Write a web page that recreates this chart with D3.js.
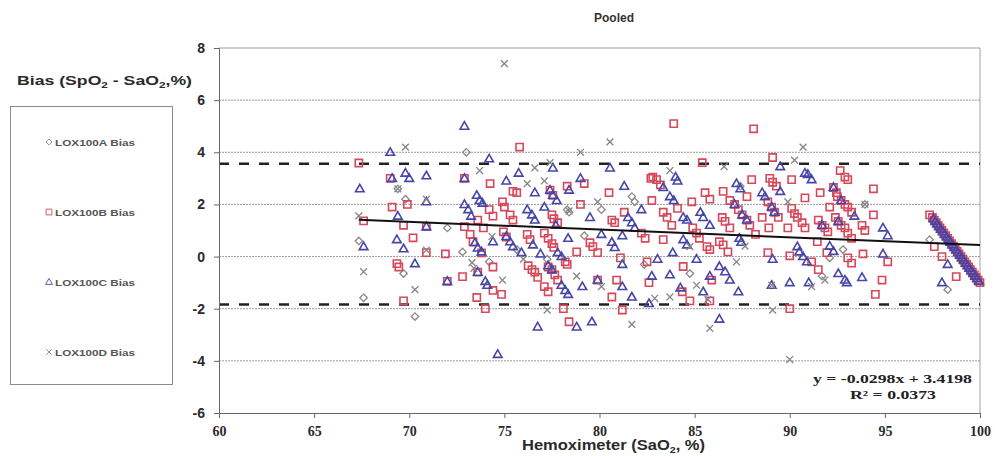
<!DOCTYPE html>
<html>
<head>
<meta charset="utf-8">
<script src="https://cdn.jsdelivr.net/npm/d3@7"></script>
<style>
  body { margin: 0; background: #fff; }
  svg { display: block; }
</style>
</head>
<body>
<script>
// ---- data ----
const xTicks = [60, 65, 70, 75, 80, 85, 90, 95, 100];
const yTicks = [-6, -4, -2, 0, 2, 4, 6, 8];
const limitsOfAgreement = [3.56, -1.84];
const fitSlope = -0.0298;
const fitIntercept = 3.4198;
const fitRange = [67.35, 100];
const seriesNames = ["LOX100A Bias", "LOX100B Bias", "LOX100C Bias", "LOX100D Bias"];

const lox100A = [
  [67.35,0.6],[67.6,-1.58],[69.8,2.2],[69.7,-0.65],[70.3,-2.3],[72.0,1.1],[72.8,0.18],[73.0,4.0],
  [74.2,-0.2],[75.65,0.27],[77.25,-0.1],[78.3,1.8],[78.4,1.7],[79.2,0.8],[80.1,1.8],[81.7,2.3],
  [81.85,2.1],[82.35,-0.3],[84.75,-0.65],[87.4,2.7],[92.8,0.27],[92.1,-0.05],[91.7,-0.75],
  [93.95,2.0],[97.35,0.65],[98.3,-1.27],[69.4,2.6]
];

const lox100B = [
  [67.35,3.59],[67.6,1.37],[69.0,3.0],[69.1,1.9],[69.9,2.0],[69.7,1.2],[70.9,1.15],[70.2,0.72],
  [70.9,0.15],[71.9,0.1],[69.35,-0.27],[69.45,-0.4],[72.0,-0.95],[72.8,-0.77],[69.7,-1.7],
  [74.25,2.8],[72.9,3.0],[74.2,1.8],[74.4,1.55],[73.6,1.4],[73.9,1.1],[72.9,1.15],[73.2,0.85],
  [73.35,0.57],[73.8,0.14],[74.4,-0.4],[73.6,-0.6],[74.4,-1.3],[73.55,-1.57],[74.0,-2.0],
  [75.8,4.2],[75.45,2.5],[75.65,2.45],[77.4,2.55],[77.55,2.35],[78.3,2.7],[79.2,2.8],[74.9,2.1],
  [75.0,1.9],[79.0,2.0],[75.3,1.6],[75.45,1.4],[77.5,1.6],[77.6,1.45],[77.8,1.3],[80.5,2.45],
  [80.65,1.4],[80.8,1.3],[81.3,1.7],[82.2,0.9],[82.4,0.7],[82.7,3.0],[82.75,2.15],
  [74.95,0.95],[75.1,0.75],[76.2,0.85],[76.35,0.65],[77.1,0.9],[77.3,0.7],[77.5,0.5],[77.6,0.35],
  [78.8,0.18],[78.2,-0.2],[78.3,-0.3],[79.5,0.53],[79.65,0.38],[79.9,0.15],[81.1,-0.05],
  [76.25,-0.35],[76.45,-0.5],[76.6,-0.6],[76.75,-0.8],[77.3,-0.4],[77.5,-0.5],[77.65,-0.7],
  [77.8,-0.9],[77.1,-1.15],[77.3,-1.35],[79.9,-0.9],[80.9,-0.9],[80.65,-1.55],[81.2,-2.05],
  [78.1,-2.0],[78.4,-2.5],[74.85,-1.45],
  [83.9,5.1],[88.1,4.9],[89.1,3.8],[85.4,3.6],[82.8,3.05],[83.0,2.95],[83.2,2.75],[84.1,1.85],
  [83.35,1.7],[83.55,1.5],[83.8,1.2],[84.85,2.1],[85.55,2.45],[85.8,2.2],[86.5,2.5],
  [86.85,2.15],[87.1,2.0],[87.3,1.8],[87.5,1.6],[87.75,1.4],[86.45,1.5],[86.6,1.35],[86.85,1.1],
  [87.9,1.2],[88.2,0.85],[87.75,2.3],[88.0,2.95],[88.95,3.0],[89.1,2.85],[89.3,2.7],
  [88.85,2.1],[89.05,1.9],[89.2,1.7],[89.4,1.5],[88.55,1.5],[88.9,1.1],[89.9,1.1],[90.1,2.95],
  [90.8,2.25],[90.1,1.85],[90.25,1.65],[90.4,1.5],[90.65,1.3],[90.8,1.1],
  [83.35,0.65],[84.9,1.1],[85.1,0.9],[85.25,0.7],[85.65,0.38],[85.8,0.27],[86.3,0.57],[86.5,0.45],
  [86.75,0.18],[88.85,0.15],[90.0,0.03],[84.4,-0.38],[85.9,-0.9],[84.35,-1.35],[84.75,-1.7],
  [85.8,-1.7],[90.0,-2.0],[82.5,-0.2],[82.6,-1.0],
  [92.65,3.3],[92.9,3.05],[93.05,2.95],[94.4,2.6],[91.6,2.45],[92.1,1.9],[92.3,2.65],[92.45,2.45],
  [92.5,2.3],[92.7,2.15],[92.9,2.0],[93.05,1.9],[93.25,1.7],[94.4,1.6],[92.4,1.5],[92.55,1.35],
  [92.7,1.2],[91.5,1.4],[91.7,1.2],[91.85,1.1],[92.0,0.95],[92.9,1.1],[93.05,0.9],[93.25,0.7],
  [93.8,1.2],[93.95,1.0],
  [91.45,0.57],[91.95,0.15],[91.15,-0.2],[93.05,-0.05],[93.25,-0.25],[93.85,0.1],[95.15,-0.2],
  [91.5,-0.5],[94.85,-0.9],[94.5,-1.45],
  [97.35,1.6],[97.6,0.38],[98.0,0.0],[98.75,-0.77],
  [97.5,1.5],[97.6,1.4],[97.7,1.3],[97.8,1.2],[97.9,1.1],[98.0,1.0],[98.1,0.9],[98.2,0.8],
  [98.3,0.7],[98.4,0.6],[98.5,0.5],[98.6,0.4],[98.7,0.3],[98.8,0.2],[98.9,0.1],[99.0,0.0],
  [99.1,-0.1],[99.2,-0.2],[99.3,-0.3],[99.4,-0.4],[99.5,-0.5],[99.6,-0.6],[99.7,-0.7],
  [99.8,-0.8],[99.9,-0.9],[100,-1.0]
];

const lox100C = [
  [67.4,2.6],[67.6,0.38],[69.0,4.0],[69.1,3.0],[69.8,3.2],[70.0,3.0],[70.9,3.1],[70.9,2.1],
  [69.4,1.55],[70.9,1.15],[69.35,0.65],[69.7,0.3],[70.3,-0.27],[72.0,-0.95],
  [72.9,5.0],[74.2,3.75],[72.9,3.0],[73.55,2.35],[73.7,2.15],[73.85,2.05],[72.9,2.0],[73.1,1.8],
  [73.25,1.55],[73.45,0.53],[73.6,0.33],[73.8,0.18],[74.4,0.57],[73.6,-0.6],[74.0,-0.95],
  [74.1,-1.1],[74.65,-3.75],
  [77.55,3.4],[80.55,3.4],[75.1,2.9],[75.75,3.2],[76.6,2.45],[77.4,2.55],[77.55,2.35],[77.75,2.15],
  [78.4,2.55],[79.0,3.0],[77.1,1.9],[76.2,1.8],[76.45,1.6],[76.6,1.4],[77.7,1.2],[79.5,1.5],
  [81.3,2.7],[81.5,1.5],[81.7,1.3],[81.85,1.1],[82.2,1.8],
  [75.1,0.77],[75.3,0.57],[75.45,0.38],[75.9,0.15],[76.5,0.45],[77.8,0.15],[78.0,0.0],[76.9,0.1],
  [78.35,0.7],[80.65,0.55],[80.8,0.35],[81.2,-0.3],[81.2,0.8],[80.1,0.85],[82.75,-0.75],
  [77.3,-0.35],[77.5,-0.5],[78.0,-1.1],[78.2,-1.3],[78.35,-1.45],[79.1,-1.15],[79.9,-0.9],
  [81.2,-1.15],[81.7,-1.55],[76.75,-2.7],[78.8,-2.7],[79.6,-2.5],[82.6,-1.8],
  [89.5,3.45],[84.0,3.05],[84.1,2.9],[83.35,2.65],[83.7,2.3],[83.9,2.15],[84.4,1.5],[84.6,1.4],
  [85.3,1.7],[85.45,1.5],[85.8,1.2],[87.2,2.8],[87.4,2.6],[87.1,2.0],[87.5,1.6],[87.75,1.4],
  [88.55,2.45],[88.7,2.3],[89.5,2.5],[90.8,3.2],[89.05,1.9],[89.2,1.7],
  [84.4,0.65],[84.6,0.45],[87.35,0.7],[87.45,0.55],[89.1,-0.1],[90.4,0.38],[90.5,0.18],[90.7,0.0],
  [90.9,-0.2],[83.85,0.15],[83.05,-0.1],[85.1,-0.1],[83.7,-0.7],[86.3,-0.38],[86.6,-0.58],
  [86.85,-0.9],[85.8,-0.75],[84.25,-1.2],[85.45,-1.35],[87.3,-1.35],[86.3,-2.4],[89.05,-1.1],
  [90.0,-1.0],
  [90.95,3.15],[91.15,2.95],[92.3,2.65],[92.7,2.15],[93.4,1.55],[92.55,1.35],[91.7,1.2],[94.9,1.1],
  [95.15,0.8],[92.1,0.4],[92.3,0.2],[94.9,0.1],[92.55,-0.65],[92.9,-0.9],[93.0,-1.0],[93.8,-0.8],
  [91.0,-1.0],[98.3,-0.3],[98.0,-1.0],
  [97.55,1.45],[97.65,1.35],[97.75,1.25],[97.85,1.15],[97.95,1.05],[98.05,0.95],[98.15,0.85],
  [98.25,0.75],[98.35,0.65],[98.45,0.55],[98.55,0.45],[98.65,0.35],[98.75,0.25],[98.85,0.15],
  [98.95,0.05],[99.05,-0.05],[99.15,-0.15],[99.25,-0.25],[99.35,-0.35],[99.45,-0.45],
  [99.55,-0.55],[99.65,-0.65],[99.75,-0.75],[99.85,-0.85],[99.95,-0.95]
];

const lox100D = [
  [67.35,1.56],[67.6,-0.58],[69.8,4.2],[69.4,2.6],[70.9,2.2],[70.9,0.25],[70.3,-1.27],[73.7,3.3],
  [74.35,0.77],[73.3,-0.23],[73.4,-0.45],[75.0,7.4],
  [79.0,4.0],[80.55,4.4],[76.6,3.4],[77.4,3.6],[76.2,2.8],[77.1,2.9],[79.9,2.1],[78.8,-0.75],
  [74.9,-0.9],[80.1,-1.15],[81.7,-2.6],[77.25,-2.05],[78.4,1.75],[76.0,-0.1],
  [90.7,4.2],[90.25,3.7],[86.55,3.45],[83.7,3.3],[84.75,0.38],[87.2,-0.2],[87.65,0.4],[85.1,-1.1],
  [83.7,-1.55],[85.7,-1.65],[85.8,-2.75],[89.1,-2.05],[89.05,-1.1],[90.0,-3.95],[91.85,-0.9],
  [91.15,-1.15],[93.95,2.0],[89.9,2.1],[82.9,-1.6]
];

// ---- drawing ----
const width = 995, height = 456;
const plot = { left: 219, right: 980, top: 48, bottom: 413 };

const x = d3.scaleLinear().domain([60, 100]).range([plot.left, plot.right]);
const y = d3.scaleLinear().domain([-6, 8]).range([plot.bottom, plot.top]);

const sans = "'Liberation Sans', Arial, sans-serif";
const serif = "'Liberation Serif', 'Times New Roman', serif";

const svg = d3.select("body").append("svg")
  .attr("width", width)
  .attr("height", height);

// marker shapes, Excel style
const shapes = {
  diamond: "M0,-3.7L3.7,0L0,3.7L-3.7,0Z",
  square: "M-3.6,-3.6H3.6V3.6H-3.6Z",
  triangle: "M0,-4.5L4.3,3H-4.3Z",
  cross: "M-3.4,-3.4L3.4,3.4M3.4,-3.4L-3.4,3.4"
};

const series = [
  { name: seriesNames[0], data: lox100A, shape: "diamond", color: "#8a8a8a", width: 1.3 },
  { name: seriesNames[1], data: lox100B, shape: "square", color: "#d6485a", width: 1.6 },
  { name: seriesNames[2], data: lox100C, shape: "triangle", color: "#4646a8", width: 1.6 },
  { name: seriesNames[3], data: lox100D, shape: "cross", color: "#858585", width: 1.3 }
];

// gridlines
svg.append("g")
  .selectAll("line")
  .data(yTicks.filter(d => d > -6))
  .join("line")
  .attr("x1", plot.left)
  .attr("x2", plot.right)
  .attr("y1", d => y(d))
  .attr("y2", d => y(d))
  .attr("stroke", "#9a9a9a")
  .attr("stroke-width", 1)
  .attr("stroke-dasharray", d => d === 8 ? null : "2,1");

// right border
svg.append("line")
  .attr("x1", plot.right).attr("x2", plot.right)
  .attr("y1", plot.top).attr("y2", plot.bottom)
  .attr("stroke", "#a0a0a0");

// limits of agreement
svg.append("g")
  .selectAll("line")
  .data(limitsOfAgreement)
  .join("line")
  .attr("x1", plot.left)
  .attr("x2", plot.right)
  .attr("y1", d => y(d))
  .attr("y2", d => y(d))
  .attr("stroke", "#222")
  .attr("stroke-width", 2.6)
  .attr("stroke-dasharray", "10,10");

// points
series.forEach(s => {
  svg.append("g")
    .selectAll("path")
    .data(s.data)
    .join("path")
    .attr("transform", d => `translate(${x(d[0])},${y(d[1])})`)
    .attr("d", shapes[s.shape])
    .attr("fill", "none")
    .attr("stroke", s.color)
    .attr("stroke-width", s.width);
});

// trendline
svg.append("line")
  .attr("x1", x(fitRange[0]))
  .attr("x2", x(fitRange[1]))
  .attr("y1", y(fitSlope * fitRange[0] + fitIntercept))
  .attr("y2", y(fitSlope * fitRange[1] + fitIntercept))
  .attr("stroke", "#111")
  .attr("stroke-width", 2);

// axes
const yAxis = svg.append("g")
  .attr("transform", `translate(${plot.left},0)`)
  .call(d3.axisLeft(y).tickValues(yTicks).tickSize(5).tickPadding(9).tickFormat(d => String(d)));
yAxis.select(".domain").attr("stroke", "#666");
yAxis.selectAll(".tick line").attr("stroke", "#666");
yAxis.selectAll(".tick text")
  .attr("font-family", sans).attr("font-size", 14).attr("font-weight", "bold").attr("fill", "#2a2a2a");

const xAxis = svg.append("g")
  .attr("transform", `translate(0,${plot.bottom})`)
  .call(d3.axisBottom(x).tickValues(xTicks).tickSize(5).tickPadding(8).tickFormat(d => String(d)));
xAxis.select(".domain").attr("stroke", "#666");
xAxis.selectAll(".tick line").attr("stroke", "#666");
xAxis.selectAll(".tick text")
  .attr("font-family", serif).attr("font-size", 14).attr("font-weight", "bold").attr("fill", "#2a2a2a");

// title
svg.append("text")
  .attr("x", 614).attr("y", 22)
  .attr("text-anchor", "middle")
  .attr("font-family", sans).attr("font-size", 12).attr("font-weight", "bold").attr("fill", "#333")
  .text("Pooled");

// y title
const yTitle = svg.append("text")
  .attr("x", 17).attr("y", 85)
  .attr("font-family", sans).attr("font-size", 13.5).attr("font-weight", "bold").attr("fill", "#2a2a2a")
  .attr("textLength", 175).attr("lengthAdjust", "spacingAndGlyphs");
yTitle.append("tspan").text("Bias (SpO");
yTitle.append("tspan").attr("font-size", 9).attr("dy", 3).text("2");
yTitle.append("tspan").attr("dy", -3).text(" - SaO");
yTitle.append("tspan").attr("font-size", 9).attr("dy", 3).text("2");
yTitle.append("tspan").attr("dy", -3).text(",%)");

// x title
const xTitle = svg.append("text")
  .attr("x", 522).attr("y", 450)
  .attr("font-family", sans).attr("font-size", 14).attr("font-weight", "bold").attr("fill", "#2a2a2a")
  .attr("textLength", 183).attr("lengthAdjust", "spacingAndGlyphs");
xTitle.append("tspan").text("Hemoximeter (SaO");
xTitle.append("tspan").attr("font-size", 9).attr("dy", 2.5).text("2");
xTitle.append("tspan").attr("dy", -2.5).text(", %)");

// regression equation
svg.append("text")
  .attr("x", 813).attr("y", 383)
  .attr("font-family", serif).attr("font-size", 13).attr("font-weight", "bold").attr("fill", "#222")
  .attr("textLength", 159).attr("lengthAdjust", "spacingAndGlyphs")
  .text(`y = ${fitSlope}x + ${fitIntercept}`);
svg.append("text")
  .attr("x", 850).attr("y", 399)
  .attr("font-family", serif).attr("font-size", 13).attr("font-weight", "bold").attr("fill", "#222")
  .attr("textLength", 86).attr("lengthAdjust", "spacingAndGlyphs")
  .text("R² = 0.0373");

// legend
svg.append("rect")
  .attr("x", 10.5).attr("y", 106.5)
  .attr("width", 162).attr("height", 278)
  .attr("fill", "none").attr("stroke", "#8a8a8a").attr("stroke-width", 1);

const legendY = d3.scalePoint().domain(seriesNames).range([142, 352]);
const legend = svg.append("g")
  .selectAll("g")
  .data(series)
  .join("g")
  .attr("transform", d => `translate(49,${legendY(d.name)})`);
legend.append("path")
  .attr("d", d => shapes[d.shape])
  .attr("transform", "scale(0.8)")
  .attr("fill", "none")
  .attr("stroke", d => d.color)
  .attr("stroke-width", 1.1);
legend.append("text")
  .attr("x", 6).attr("y", 3.5)
  .attr("font-family", sans).attr("font-size", 9.5).attr("font-weight", "bold").attr("fill", "#555")
  .attr("textLength", 80).attr("lengthAdjust", "spacingAndGlyphs")
  .text(d => d.name);
</script>
</body>
</html>
